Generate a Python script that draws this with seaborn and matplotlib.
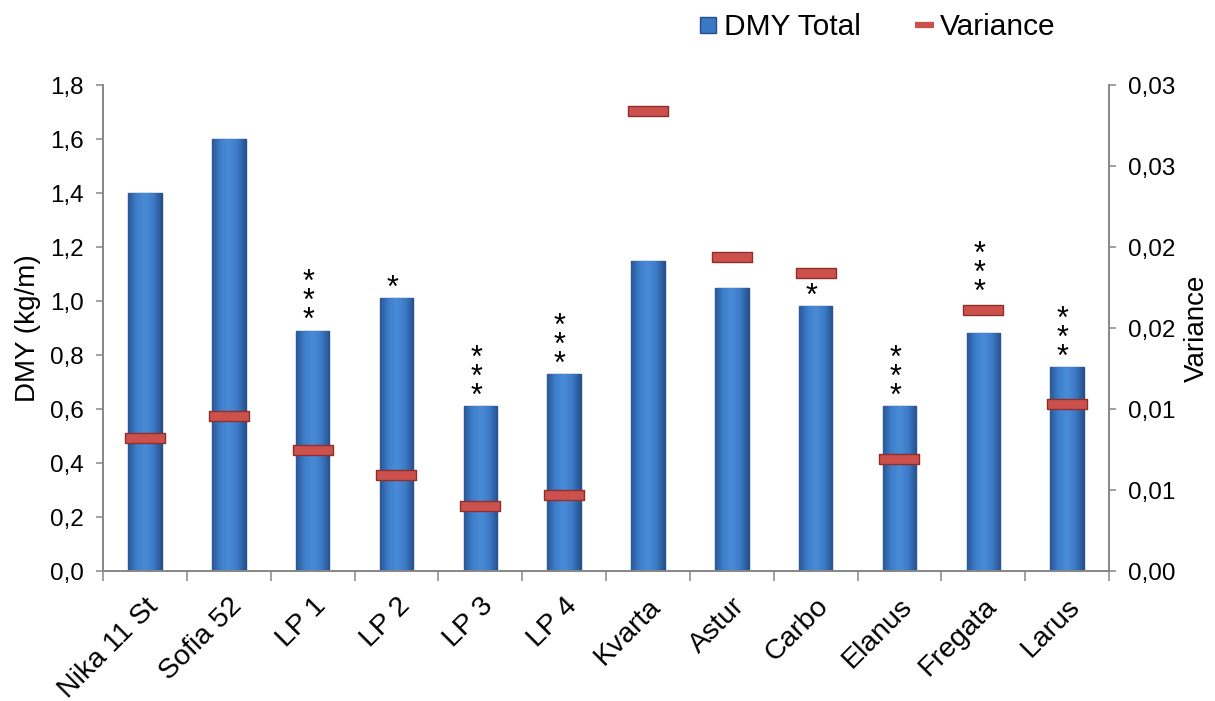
import matplotlib
matplotlib.use("Agg")
import matplotlib.pyplot as plt
import numpy as np
import pandas as pd
import seaborn as sns
from matplotlib.colors import LinearSegmentedColormap
from matplotlib.lines import Line2D
from matplotlib.ticker import FixedLocator

# values
cultivars = ["Nika 11 St", "Sofia 52", "LP 1", "LP 2", "LP 3", "LP 4",
             "Kvarta", "Astur", "Carbo", "Elanus", "Fregata", "Larus"]
dmy_total = [1.40, 1.60, 0.89, 1.01, 0.61, 0.73, 1.15, 1.05, 0.98, 0.61, 0.88, 0.755]
variance = [0.0082, 0.0096, 0.0075, 0.0059, 0.0040, 0.0047,
            0.0284, 0.0194, 0.0184, 0.0069, 0.0161, 0.0103]
signif = ["", "", "***", "*", "***", "***", "", "", "*", "***", "***", "***"]

left_ticks = [0.0, 0.2, 0.4, 0.6, 0.8, 1.0, 1.2, 1.4, 1.6, 1.8]
left_labels = ["0,0", "0,2", "0,4", "0,6", "0,8", "1,0", "1,2", "1,4", "1,6", "1,8"]
right_ticks = [0.0, 0.005, 0.01, 0.015, 0.02, 0.025, 0.03]
right_labels = ["0,00", "0,01", "0,01", "0,02", "0,02", "0,03", "0,03"]

BLUE = "#3A77C4"
BLUE_EDGE = "#24508A"
RED = "#CC514D"
RED_EDGE = "#8E2F2C"
AXIS_GREY = "#868686"

sns.set_theme(style="white")
plt.rcParams.update({
    "font.family": ["Liberation Sans", "DejaVu Sans"],
    "axes.edgecolor": AXIS_GREY,
    "text.color": "black",
    "axes.labelcolor": "black",
    "xtick.labelcolor": "black",
    "ytick.labelcolor": "black",
})

df = pd.DataFrame({"cultivar": cultivars, "dmy": dmy_total, "var": variance})

fig, ax = plt.subplots(figsize=(12.15, 7.01), dpi=100)
fig.subplots_adjust(left=0.0848, right=0.9128, bottom=0.1854, top=0.8787)

sns.barplot(data=df, x="cultivar", y="dmy", color=BLUE, saturation=1,
            width=0.4, edgecolor=BLUE_EDGE, linewidth=1.0, ax=ax)

# cylinder-like shading on each bar, clipped to the bar patch
shade = LinearSegmentedColormap.from_list(
    "bar_shade", ["#2A5895", "#3E7FCC", "#4A8CD8", "#3C7BC8", "#27528C"])
grad = np.linspace(0, 1, 64).reshape(1, -1)
for patch in ax.patches:
    x0, y0 = patch.get_x(), patch.get_y()
    w, h = patch.get_width(), patch.get_height()
    im = ax.imshow(grad, cmap=shade, aspect="auto", extent=(x0, x0 + w, y0, y0 + h),
                   zorder=patch.get_zorder() + 0.1, interpolation="bicubic")
    im.set_clip_path(patch)
ax.set_xlim(-0.5, len(cultivars) - 0.5)
ax.set_ylim(0, 1.8)

ax2 = ax.twinx()
rect = [(-2.2, -0.5), (2.2, -0.5), (2.2, 0.5), (-2.2, 0.5), (-2.2, -0.5)]
sns.scatterplot(x=np.arange(len(cultivars)), y=df["var"], marker=rect, s=870,
                color=RED, edgecolor=RED_EDGE, linewidth=1, ax=ax2, zorder=5)
ax2.set_ylim(0, 0.03)

# significance stars, stacked vertically
scale = 1.8 / 0.03
for i, (b, v, s) in enumerate(zip(dmy_total, variance, signif)):
    if not s:
        continue
    anchor = b
    if 0 < v * scale - b < 0.11:
        anchor = v * scale + 0.03
    ax.annotate("\n".join(s), (i - 0.05, anchor), xytext=(0, -4),
                textcoords="offset points", ha="center", va="bottom",
                fontsize=22, linespacing=0.52, color="black")

# axes styling
for a in (ax, ax2):
    a.spines["top"].set_visible(False)
    for sp in ("left", "right", "bottom"):
        a.spines[sp].set_color(AXIS_GREY)
        a.spines[sp].set_linewidth(1.2)

ax.set_yticks(left_ticks)
ax.set_yticklabels(left_labels)
ax2.set_yticks(right_ticks)
ax2.set_yticklabels(right_labels)
ax.tick_params(axis="y", direction="out", length=5, width=1.1, color=AXIS_GREY,
               pad=9, labelsize=17.5, left=True)
ax2.tick_params(axis="y", direction="out", length=5, width=1.1, color=AXIS_GREY,
                pad=9, labelsize=17.5, right=True)

ax.xaxis.set_minor_locator(FixedLocator(np.arange(len(cultivars) + 1) - 0.5))
ax.tick_params(axis="x", which="minor", direction="out", length=7, width=1.1,
               color=AXIS_GREY, bottom=True)
ax.tick_params(axis="x", which="major", length=0, pad=16, labelsize=20.5)
for lbl in ax.get_xticklabels():
    lbl.set_rotation(45)
    lbl.set_ha("right")
    lbl.set_va("top")
    lbl.set_rotation_mode("anchor")

ax.set_xlabel("")
ax.set_ylabel("DMY (kg/m)", fontsize=20, labelpad=6)
ax2.set_ylabel("Variance", fontsize=20, labelpad=6)

handles = [
    Line2D([], [], linestyle="none", marker="s", markersize=11,
           markerfacecolor=BLUE, markeredgecolor=BLUE_EDGE),
    Line2D([], [], color=RED, linewidth=4.5, solid_capstyle="butt"),
]
fig.legend(handles, ["DMY Total", "Variance"], loc="center",
           bbox_to_anchor=(0.722, 0.961), ncol=2, frameon=False, fontsize=21.5,
           handlelength=0.65, handletextpad=0.2, columnspacing=1.8)

fig.savefig("out.png", dpi=100, facecolor="white")
